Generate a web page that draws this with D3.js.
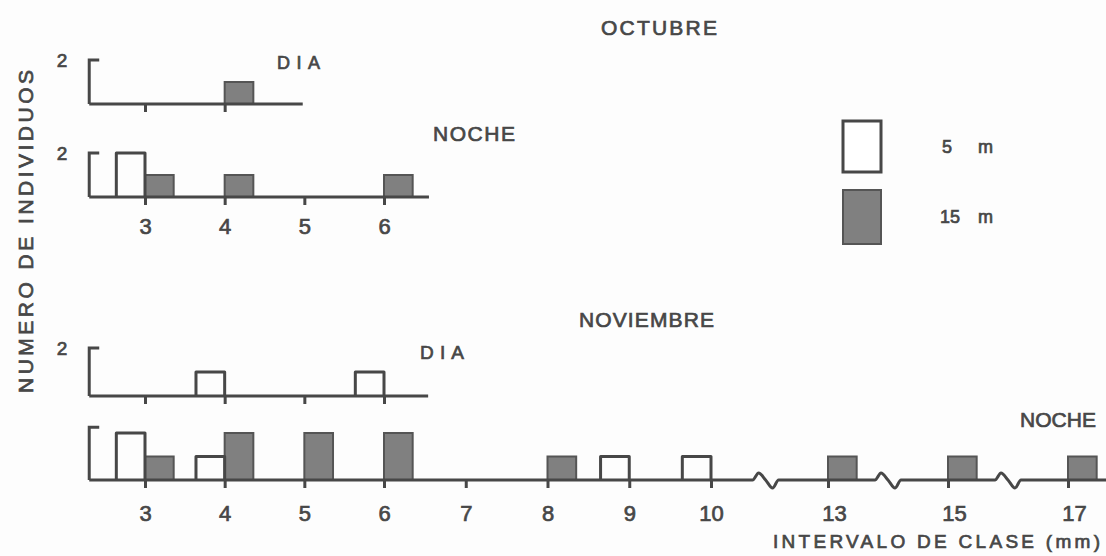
<!DOCTYPE html>
<html><head><meta charset="utf-8">
<script src="https://cdn.jsdelivr.net/npm/d3@7"></script>
<style>html,body{margin:0;padding:0;background:#fff;} svg{display:block;}</style>
</head><body><svg id="c" width="1106" height="556"></svg>
<script>
// ---- data ----
const classes      = [3,4,5,6,7,8,9,10,13,15,17];
const tickLabels   = ["3","4","5","6","7","8","9","10","13","15","17"];
const octDiaClasses   = [3,4];
const octDia5m        = [0,0];
const octDia15m       = [0,1];
const octNocheClasses = [3,4,5,6];
const octNoche5m      = [2,0,0,0];
const octNoche15m     = [1,1,0,1];
const novDiaClasses   = [3,4,5,6];
const novDia5m        = [0,1,0,1];
const novDia15m       = [0,0,0,0];
const novNocheClasses = classes;
const novNoche5m      = [2,1,0,0,0,0,1,1,0,0,0];
const novNoche15m     = [1,2,2,2,0,1,0,0,1,1,1];
const axisBreaks      = [11.4,14,16];
const legendDepths    = ["5","15"];
const legendUnit      = "m";

// ---- layout ----
const ink = "#474747", barFill = "#808080";
const svg = d3.select("#c");
svg.append("rect").attr("width",1106).attr("height",556).attr("fill","#fdfdfd");

const x = d3.scaleLinear().domain([3,6,10,13,17]).range([145,384,711,828,1068]);
const barW = x(3.36) - x(3);

const panels = [
  {cls:octDiaClasses, v5:octDia5m, v15:octDia15m, ext:[2.3,4.98], yr:[104,60], top:2, two:true, labels:false, pad:13, breaks:[]},
  {cls:octNocheClasses, v5:octNoche5m, v15:octNoche15m, ext:[2.3,6.55], yr:[197,153], top:2, two:true, labels:true, pad:13, breaks:[]},
  {cls:novDiaClasses, v5:novDia5m, v15:novDia15m, ext:[2.3,6.54], yr:[396,348], top:2, two:true, labels:false, pad:13, breaks:[]},
  {cls:novNocheClasses, v5:novNoche5m, v15:novNoche15m, ext:[2.3,17.8], yr:[480,433], top:2.25, two:false, labels:true, pad:17, breaks:axisBreaks}
];

const font = "'Liberation Sans', Arial, sans-serif";
function styleText(sel, size) {
  return sel.attr("font-family",font).attr("font-size",size).attr("fill",ink)
    .attr("stroke",ink).attr("stroke-width",0.7);
}

panels.forEach(p => {
  const y = d3.scaleLinear().domain([0,2]).range(p.yr);
  const g = svg.append("g");
  const y0 = y(0);

  // axis ticks
  const ag = g.append("g").attr("transform",`translate(0,${y0})`)
    .call(d3.axisBottom(x).tickValues(p.cls).tickSize(8).tickPadding(p.pad)
      .tickFormat(d => p.labels ? tickLabels[classes.indexOf(d)] : ""));
  ag.select(".domain").remove();
  ag.selectAll(".tick line").attr("stroke",ink).attr("stroke-width",3);
  styleText(ag.selectAll(".tick text"), 22).attr("dx", d => d > 10 ? 6 : 0);

  // filled bars (15 m)
  const d15 = p.cls.map((c,i) => ({c, v:p.v15[i]})).filter(d => d.v > 0);
  g.selectAll("rect.b15").data(d15).join("rect").attr("class","b15")
    .attr("x", d => x(d.c)).attr("width", barW)
    .attr("y", d => y(d.v)).attr("height", d => y0 - y(d.v))
    .attr("fill", barFill).attr("stroke", "#555").attr("stroke-width", 2);

  // open bars (5 m)
  const d5 = p.cls.map((c,i) => ({c, v:p.v5[i]})).filter(d => d.v > 0);
  g.selectAll("path.b5").data(d5).join("path").attr("class","b5")
    .attr("d", d => {
      const pth = d3.path();
      pth.moveTo(x(d.c) - barW, y0);
      pth.lineTo(x(d.c) - barW, y(d.v));
      pth.lineTo(x(d.c), y(d.v));
      pth.lineTo(x(d.c), y0);
      return pth.toString();
    })
    .attr("fill","none").attr("stroke",ink).attr("stroke-width",3).attr("stroke-linejoin","round");

  // baseline with breaks
  const pts = [[x(p.ext[0]), y0]];
  p.breaks.forEach(b => {
    const c = x(b);
    pts.push([c-13,y0],[c-7,y0-7],[c,y0],[c+7,y0+8],[c+13,y0]);
  });
  pts.push([x(p.ext[1]), y0]);
  g.append("path").attr("d", d3.line().curve(d3.curveMonotoneX)(pts))
    .attr("fill","none").attr("stroke",ink).attr("stroke-width",3);

  // y bracket
  const xs = x(p.ext[0]);
  g.append("path").attr("d", d3.line()([[xs,y0],[xs,y(p.top)],[xs+10,y(p.top)]]))
    .attr("fill","none").attr("stroke",ink).attr("stroke-width",3);
  if (p.two) {
    styleText(g.append("text").attr("x", 62).attr("y", y(2)+7).attr("text-anchor","middle"), 19).text("2");
  }
});

// titles & labels
function label(txt, x0, x1, yb, size) {
  styleText(svg.append("text").attr("x",x0).attr("y",yb), size)
    .attr("textLength", x1-x0).attr("lengthAdjust","spacing").text(txt);
}
label("OCTUBRE", 601, 717, 35, 21);
label("DIA", 277, 320, 69, 18);
label("NOCHE", 433, 515, 141, 21);
label("NOVIEMBRE", 579, 714, 327, 21);
label("DIA", 420, 464, 359, 19);
label("NOCHE", 1020, 1096, 427, 21);
label("INTERVALO DE CLASE (mm)", 773, 1100, 548, 19);

styleText(svg.append("text").attr("transform","translate(33,393) rotate(-90)"), 21)
  .attr("textLength", 323).attr("lengthAdjust","spacing").text("NUMERO DE INDIVIDUOS");

// legend
const lg = svg.append("g");
lg.append("rect").attr("x",843).attr("y",121).attr("width",38).attr("height",51)
  .attr("fill","#fff").attr("stroke",ink).attr("stroke-width",3);
lg.append("rect").attr("x",843).attr("y",190).attr("width",38).attr("height",54)
  .attr("fill",barFill).attr("stroke","#555").attr("stroke-width",2);
legendDepths.forEach((t,i) => {
  const yy = [153,223][i];
  styleText(lg.append("text").attr("x", t.length > 1 ? 940 : 942).attr("y",yy), 18).text(t);
  styleText(lg.append("text").attr("x", 978).attr("y",yy), 18).text(legendUnit);
});
</script>
</body></html>
